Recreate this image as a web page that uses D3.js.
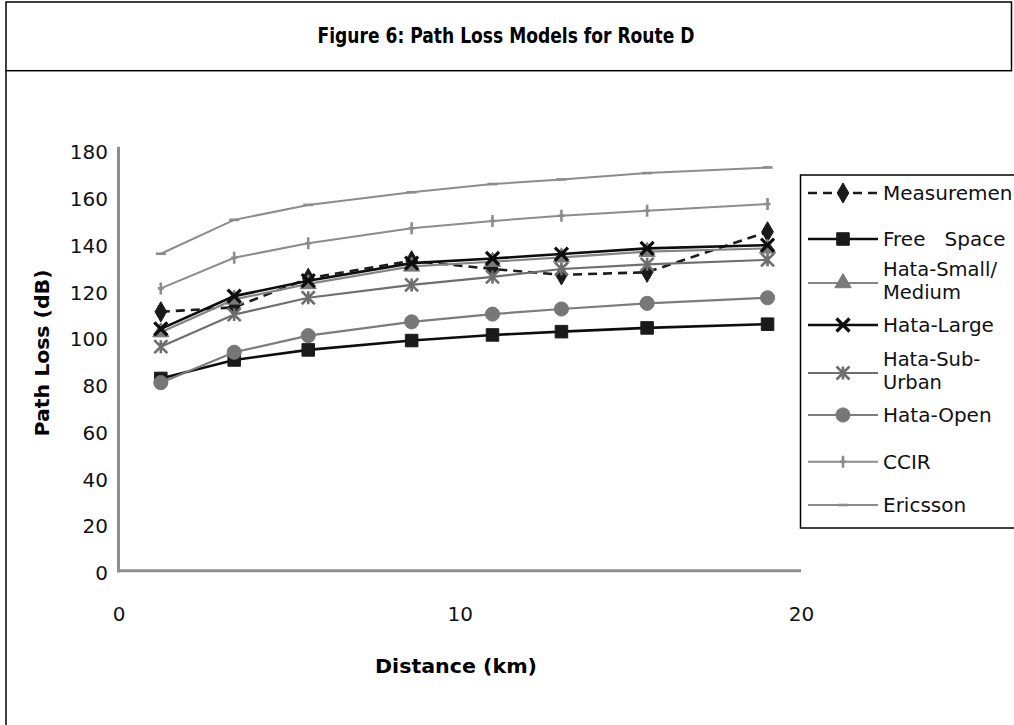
<!DOCTYPE html>
<html>
<head>
<meta charset="utf-8">
<script src="https://cdn.jsdelivr.net/npm/d3@7"></script>
<style>
  body { margin: 0; background: #fff; }
  text { font-family: "DejaVu Sans", Verdana, sans-serif; }
</style>
</head>
<body>
<div id="chart"></div>
<script>
// distance of each measurement point (km)
const distances = [1.24, 3.39, 5.56, 8.59, 10.96, 12.98, 15.49, 19.02]

// path loss values (dB)
const measurement = [110.7, 112.6, 125.0, 132.5, 129.0, 126.5, 127.6, 144.9]
const freeSpace   = [82.2, 90.1, 94.4, 98.4, 100.8, 102.2, 103.8, 105.4]
const hataSmall   = [102.0, 116.0, 122.6, 130.1, 132.1, 134.0, 136.4, 137.8]
const hataLarge   = [103.4, 117.4, 124.0, 131.5, 133.5, 135.4, 137.8, 139.2]
const hataSub     = [95.8, 109.5, 116.7, 122.2, 125.6, 129.0, 131.0, 132.9]
const hataOpen    = [80.4, 93.4, 100.5, 106.4, 109.7, 111.9, 114.3, 116.7]
const ccir        = [120.7, 133.8, 140.0, 146.4, 149.5, 151.8, 153.9, 156.8]
const ericsson    = [135.5, 150.0, 156.4, 161.8, 165.3, 167.3, 170.0, 172.4]

const seriesNames = ['Measuremen', 'Free   Space', 'Hata-Small/\nMedium', 'Hata-Large',
    'Hata-Sub-\nUrban', 'Hata-Open', 'CCIR', 'Ericsson']
const seriesValues = [measurement, freeSpace, hataSmall, hataLarge, hataSub, hataOpen, ccir, ericsson]

const yTicks = d3.range(0, 181, 20)
const xTicks = [0, 10, 20]

// look of each series, same order as the names
const looks = [
    {stroke: '#1a1a1a', width: 2.6, dash: '9,6', marker: 'diamond', fill: '#1a1a1a', size: 14},
    {stroke: '#0d0d0d', width: 2.6, dash: null, marker: 'square', fill: '#1a1a1a', size: 14},
    {stroke: '#858585', width: 2.2, dash: null, marker: 'triangle', fill: '#7a7a7a', size: 12},
    {stroke: '#0d0d0d', width: 2.6, dash: null, marker: 'x', fill: '#0d0d0d', size: 13},
    {stroke: '#6e6e6e', width: 2.2, dash: null, marker: 'star', fill: '#6e6e6e', size: 13},
    {stroke: '#7c7c7c', width: 2.2, dash: null, marker: 'circle', fill: '#777', size: 14},
    {stroke: '#8c8c8c', width: 2, dash: null, marker: 'plus', fill: '#8c8c8c', size: 12},
    {stroke: '#8c8c8c', width: 2, dash: null, marker: 'dash', fill: '#8c8c8c', size: 10}
]

const width = 1014
const height = 725

const svg = d3.select('#chart')
    .append('svg')
    .attr('width', width)
    .attr('height', height)

// frame round the figure
svg.append('rect')
    .attr('x', 6).attr('y', 2)
    .attr('width', 1005.5).attr('height', 68.7)
    .attr('fill', 'none').attr('stroke', '#000').attr('stroke-width', 1.5)
svg.append('line')
    .attr('x1', 6).attr('x2', 6).attr('y1', 70).attr('y2', height)
    .attr('stroke', '#000').attr('stroke-width', 1.5)

svg.append('text')
    .attr('x', 506).attr('y', 43)
    .attr('text-anchor', 'middle')
    .attr('font-weight', 'bold')
    .attr('font-size', 21)
    .attr('textLength', 377)
    .attr('lengthAdjust', 'spacingAndGlyphs')
    .text('Figure 6: Path Loss Models for Route D')

const x = d3.scaleLinear().domain([0, 20]).range([118.5, 801])
const y = d3.scaleLinear().domain([0, 180]).range([570.7, 149.7])

// axes
const yAxis = svg.append('g')
    .attr('transform', `translate(${x(0)},0)`)
    .call(d3.axisLeft(y).tickValues(yTicks).tickSize(0).tickPadding(10.5))
yAxis.select('.domain').attr('stroke', '#8f8f8f').attr('stroke-width', 3)
    .attr('d', `M0,${y(0) + 1.5}V${y(180) - 3}`)
yAxis.selectAll('text')
    .attr('font-size', 20).attr('fill', '#111').attr('dy', '0.45em')
    .attr('font-family', '"DejaVu Sans", Verdana, sans-serif')

const xAxis = svg.append('g')
    .attr('transform', `translate(0,${y(0)})`)
    .call(d3.axisBottom(x).tickValues(xTicks).tickSize(0).tickPadding(36))
xAxis.select('.domain').attr('stroke', '#8f8f8f').attr('stroke-width', 3)
    .attr('d', `M${x(0) - 1.5},0H${x(20)}`)
xAxis.selectAll('text')
    .attr('font-size', 20).attr('fill', '#111')
    .attr('font-family', '"DejaVu Sans", Verdana, sans-serif')

svg.append('text')
    .attr('transform', 'translate(49,353) rotate(-90)')
    .attr('text-anchor', 'middle')
    .attr('font-weight', 'bold')
    .attr('font-size', 20)
    .attr('textLength', 167)
    .attr('lengthAdjust', 'spacingAndGlyphs')
    .text('Path Loss  (dB)')

svg.append('text')
    .attr('x', 456).attr('y', 673)
    .attr('text-anchor', 'middle')
    .attr('font-weight', 'bold')
    .attr('font-size', 20)
    .attr('textLength', 162)
    .attr('lengthAdjust', 'spacingAndGlyphs')
    .text('Distance  (km)')

// marker shapes
function markerPath (kind, s) {
    const h = s / 2
    if (kind === 'x') return `M${-h},${-h}L${h},${h}M${h},${-h}L${-h},${h}`
    if (kind === 'star') return `M${-h},${-h}L${h},${h}M${h},${-h}L${-h},${h}M0,${-h}V${h}`
    if (kind === 'plus') return `M0,${-h}V${h}M${-h * 0.5},0H${h * 0.5}`
    if (kind === 'dash') return `M${-h},0H${h}`
    const sym = {
        diamond: d3.symbolDiamond, square: d3.symbolSquare,
        triangle: d3.symbolTriangle, circle: d3.symbolCircle
    }[kind]
    return d3.symbol(sym, s * s * (kind === 'diamond' ? 0.6 : 0.8))()
}
const strokeMarkers = ['x', 'star', 'plus', 'dash']

function drawMarker (g, look) {
    const isStroke = strokeMarkers.includes(look.marker)
    g.append('path')
        .attr('d', markerPath(look.marker, look.size))
        .attr('fill', isStroke ? 'none' : look.fill)
        .attr('stroke', look.fill)
        .attr('stroke-width', isStroke ? (look.marker === 'x' ? 3.2 : 2.6) : 1)
}

const line = d3.line()
    .x(d => x(d[0]))
    .y(d => y(d[1]))

const series = seriesNames.map((name, i) => ({
    name,
    look: looks[i],
    points: distances.map((dist, j) => [dist, seriesValues[i][j]])
}))

const plot = svg.append('g').attr('class', 'plot')
series.forEach(s => {
    const g = plot.append('g').attr('class', 'series')
    g.append('path')
        .attr('d', line(s.points))
        .attr('fill', 'none')
        .attr('stroke', s.look.stroke)
        .attr('stroke-width', s.look.width)
        .attr('stroke-dasharray', s.look.dash)
    g.selectAll('.pt')
        .data(s.points)
        .join('g')
        .attr('class', 'pt')
        .attr('transform', d => `translate(${x(d[0])},${y(d[1])})`)
        .each(function () { drawMarker(d3.select(this), s.look) })
})

// legend
const legendRows = [193, 239, 283, 325, 373, 415, 461.7, 505]
const legend = svg.append('g').attr('class', 'legend')
legend.append('rect')
    .attr('x', 800.5).attr('y', 175)
    .attr('width', 240).attr('height', 353)
    .attr('fill', '#fff').attr('stroke', '#000').attr('stroke-width', 1.5)

series.forEach((s, i) => {
    const g = legend.append('g')
        .attr('transform', `translate(0,${legendRows[i]})`)
    g.append('line')
        .attr('x1', 808).attr('x2', 878)
        .attr('stroke', s.look.stroke)
        .attr('stroke-width', s.look.width)
        .attr('stroke-dasharray', s.look.dash)
    drawMarker(g.append('g').attr('transform', 'translate(843,0)'), s.look)
    // two-line names are split into separate text elements
    const lines = s.name.split('\n')
    lines.forEach((ln, k) => {
        g.append('text')
            .attr('x', 883)
            .attr('y', lines.length === 1 ? 7 : (k === 0 ? -7 : 16))
            .attr('font-size', lines.length === 1 ? 20 : 19.5)
            .attr('fill', '#111')
            .style('white-space', 'pre')
            .text(ln)
    })
})
</script>
</body>
</html>
